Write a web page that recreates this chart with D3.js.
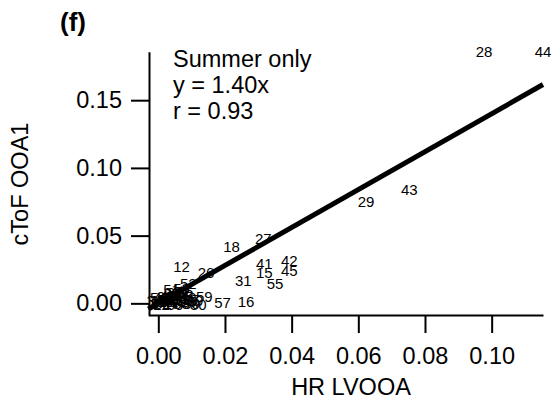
<!DOCTYPE html>
<html>
<head>
<meta charset="utf-8">
<script src="https://cdn.jsdelivr.net/npm/d3@7"></script>
<style>
  html, body { margin: 0; padding: 0; background: #fff; }
  svg { display: block; font-family: "Liberation Sans", Arial, Helvetica, sans-serif; }
</style>
</head>
<body>
<svg id="chart" width="555" height="403"></svg>
<script>
// Sample numbers used as text markers
const sampleIds = [
  28, 44, 43, 29, 27, 18, 12, 26, 31, 41, 15, 42, 45, 55, 57, 16, 52, 59, 30,
  1, 2, 3, 4, 5, 6, 7, 8, 9, 10, 11, 13, 14, 17, 19, 20, 21, 22, 23, 24, 25,
  32, 33, 34, 35, 36, 37, 38, 39, 40, 46, 47, 48, 49, 50, 51, 53, 54, 56, 58, 60
];
// HR LVOOA (x)
const hrLvooa = [
  0.0977, 0.1154, 0.0753, 0.0623, 0.0315, 0.0220, 0.0070, 0.0143, 0.0255, 0.0318, 0.0318, 0.0393, 0.0393, 0.0350, 0.0193, 0.0263, 0.0090, 0.0138, 0.0120,
  0.001, 0.002, 0.000, 0.003, -0.001, 0.004, 0.002, 0.005, 0.001, 0.006, 0.003, 0.007, 0.000, 0.004, 0.008, 0.002, 0.005, 0.001, 0.006, 0.003, 0.009,
  0.004, 0.007, -0.001, 0.008, 0.002, 0.010, 0.005, 0.011, 0.006, 0.003, 0.007, 0.001, 0.009, 0.010, 0.004, 0.007, 0.000, 0.008, 0.002, 0.005
];
// cToF OOA1 (y)
const ctofOoa1 = [
  0.1856, 0.1856, 0.0837, 0.0750, 0.0480, 0.0418, 0.0270, 0.0231, 0.0172, 0.0295, 0.0229, 0.0315, 0.0241, 0.0148, 0.0004, 0.0017, 0.0148, 0.0050, -0.0010,
  0.001, 0.002, 0.000, 0.001, 0.000, 0.003, 0.000, 0.002, 0.003, 0.001, 0.004, 0.003, 0.002, 0.000, 0.002, 0.005, 0.006, -0.001, 0.004, 0.002, 0.001,
  0.007, 0.000, 0.002, 0.005, 0.003, 0.003, 0.008, 0.002, 0.009, 0.006, 0.007, 0.004, 0.004, 0.000, 0.010, 0.011, 0.004, 0.009, 0.001, -0.001
];
// Fit through the origin
const fitSlope = 1.40;
const fitR = 0.93;
const xTicks = [0.00, 0.02, 0.04, 0.06, 0.08, 0.10];
const yTicks = [0.00, 0.05, 0.10, 0.15];

const svg = d3.select("#chart");

const x = d3.scaleLinear().domain([-0.003, 0.1154]).range([148.3, 543]);
const y = d3.scaleLinear().domain([-0.0086, 0.1858]).range([315, 51.7]);

const bigFont = 23.5;

// Axes
const xAxis = svg.append("g")
  .attr("transform", "translate(0,315)")
  .call(d3.axisBottom(x).tickValues(xTicks).tickFormat(d3.format(".2f"))
    .tickSize(18).tickSizeOuter(0).tickPadding(14));
const yAxis = svg.append("g")
  .attr("transform", "translate(149,0)")
  .call(d3.axisLeft(y).tickValues(yTicks).tickFormat(d3.format(".2f"))
    .tickSize(18).tickSizeOuter(0).tickPadding(9));

[xAxis, yAxis].forEach(g => {
  g.select(".domain").attr("stroke", "#000").attr("stroke-width", 2);
  g.selectAll(".tick line").attr("stroke", "#000").attr("stroke-width", 2);
  g.selectAll(".tick text").attr("fill", "#000")
    .style("font-size", bigFont + "px")
    .style("font-family", '"Liberation Sans", Arial, sans-serif');
});

// Text markers
const points = sampleIds.map((id, i) => ({ id, x: hrLvooa[i], y: ctofOoa1[i] }));
svg.append("g").selectAll("text")
  .data(points)
  .join("text")
  .attr("x", d => x(d.x))
  .attr("y", d => y(d.y))
  .attr("text-anchor", "middle")
  .attr("dominant-baseline", "central")
  .style("font-size", "15px")
  .attr("fill", "#000")
  .text(d => d.id);

// Regression line
const [x0, x1] = x.domain();
svg.append("line")
  .attr("x1", x(x0)).attr("y1", y(fitSlope * x0))
  .attr("x2", x(x1)).attr("y2", y(fitSlope * x1))
  .attr("stroke", "#000")
  .attr("stroke-width", 5);

// Annotation
const notes = ["Summer only", `y = ${fitSlope.toFixed(2)}x`, `r = ${fitR.toFixed(2)}`];
svg.append("g").selectAll("text")
  .data(notes)
  .join("text")
  .attr("x", 173)
  .attr("y", (d, i) => 66.7 + i * 26.3)
  .style("font-size", bigFont + "px")
  .attr("fill", "#000")
  .text(d => d);

// Panel letter
svg.append("text")
  .attr("x", 60).attr("y", 31)
  .style("font-size", "26px").style("font-weight", "bold")
  .text("(f)");

// Axis titles
svg.append("text")
  .attr("x", 351).attr("y", 395)
  .attr("text-anchor", "middle")
  .style("font-size", bigFont + "px")
  .text("HR LVOOA");
svg.append("text")
  .attr("transform", "translate(28,184) rotate(-90)")
  .attr("text-anchor", "middle")
  .style("font-size", bigFont + "px")
  .text("cToF OOA1");
</script>
</body>
</html>
